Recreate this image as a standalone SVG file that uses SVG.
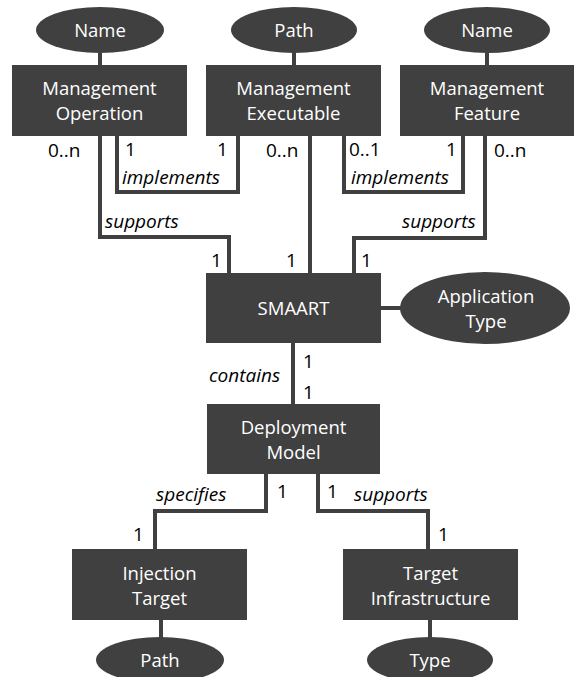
<svg xmlns="http://www.w3.org/2000/svg" width="575" height="677" viewBox="0 0 575 677">
<style>
.box{fill:#404040}
.ell{fill:#404040}
.wt{fill:#ffffff;font-family:"Open Sans",sans-serif;font-size:18.5px;text-anchor:middle}
.lb{fill:#000000;font-family:"Open Sans",sans-serif;font-size:19px}
.it{font-style:italic}
.ln{fill:none;stroke:#404040;stroke-width:4}
</style>
<rect width="575" height="677" fill="#ffffff"/>
<g id="connectors">
<path class="ln" d="M100,53V65"/>
<path class="ln" d="M294,53V65"/>
<path class="ln" d="M487,53V65"/>
<path class="ln" d="M100,136V237H229V273"/>
<path class="ln" d="M117,136V192H238V136"/>
<path class="ln" d="M310,136V273"/>
<path class="ln" d="M344,136V192H463V136"/>
<path class="ln" d="M485,136V238H354V273"/>
<path class="ln" d="M381,308H401"/>
<path class="ln" d="M293,343V404"/>
<path class="ln" d="M266,474V511H155V549"/>
<path class="ln" d="M318,474V511H428V549"/>
<path class="ln" d="M161,620V638"/>
<path class="ln" d="M430,620V638"/>
</g>
<g id="attr-name-op"><ellipse class="ell" cx="100" cy="30" rx="64" ry="23"/><text class="wt" x="100" y="37">Name</text></g>
<g id="attr-path-exec"><ellipse class="ell" cx="294" cy="30" rx="63" ry="23"/><text class="wt" x="294" y="37">Path</text></g>
<g id="attr-name-feat"><ellipse class="ell" cx="487" cy="30" rx="63" ry="23"/><text class="wt" x="487" y="37">Name</text></g>
<g id="mgmt-operation"><rect class="box" x="12" y="65" width="175" height="71"/><text class="wt" x="99.5" y="95">Management</text><text class="wt" x="99.5" y="120">Operation</text></g>
<g id="mgmt-executable"><rect class="box" x="206" y="65" width="175" height="71"/><text class="wt" x="293.5" y="95">Management</text><text class="wt" x="293.5" y="120">Executable</text></g>
<g id="mgmt-feature"><rect class="box" x="400" y="65" width="174" height="71"/><text class="wt" x="487" y="95">Management</text><text class="wt" x="487" y="120">Feature</text></g>
<g id="smaart"><rect class="box" x="206" y="273" width="175" height="70"/><text class="wt" x="293.5" y="315">SMAART</text></g>
<g id="attr-app-type"><ellipse class="ell" cx="485" cy="308" rx="85" ry="36"/><text class="wt" x="486" y="303">Application</text><text class="wt" x="486" y="328">Type</text></g>
<g id="deployment-model"><rect class="box" x="207" y="404" width="173" height="70"/><text class="wt" x="293.5" y="434">Deployment</text><text class="wt" x="293.5" y="459">Model</text></g>
<g id="injection-target"><rect class="box" x="72" y="549" width="175" height="71"/><text class="wt" x="159.5" y="580">Injection</text><text class="wt" x="159.5" y="605">Target</text></g>
<g id="target-infrastructure"><rect class="box" x="343" y="549" width="175" height="71"/><text class="wt" x="430.5" y="580">Target</text><text class="wt" x="430.5" y="605">Infrastructure</text></g>
<g id="attr-path-inj"><ellipse class="ell" cx="160" cy="660" rx="64" ry="23"/><text class="wt" x="160" y="667">Path</text></g>
<g id="attr-type-inf"><ellipse class="ell" cx="430" cy="660" rx="63" ry="23"/><text class="wt" x="430" y="667">Type</text></g>
<g id="labels">
<text class="lb" x="48" y="157">0..n</text>
<text class="lb" x="125" y="156">1</text>
<text class="lb" x="217" y="156">1</text>
<text class="lb it" x="122" y="184">implements</text>
<text class="lb" x="266" y="157">0..n</text>
<text class="lb" x="349" y="156">0..1</text>
<text class="lb" x="446" y="156">1</text>
<text class="lb it" x="351" y="184">implements</text>
<text class="lb" x="494" y="157">0..n</text>
<text class="lb it" x="105" y="228">supports</text>
<text class="lb it" x="402" y="228">supports</text>
<text class="lb" x="211" y="267">1</text>
<text class="lb" x="286" y="267">1</text>
<text class="lb" x="361" y="267">1</text>
<text class="lb it" x="209" y="382">contains</text>
<text class="lb" x="303" y="368">1</text>
<text class="lb" x="303" y="399">1</text>
<text class="lb it" x="156" y="501">specifies</text>
<text class="lb" x="277" y="498">1</text>
<text class="lb" x="327" y="498">1</text>
<text class="lb it" x="354" y="501">supports</text>
<text class="lb" x="133" y="541">1</text>
<text class="lb" x="438" y="541">1</text>
</g>
</svg>
